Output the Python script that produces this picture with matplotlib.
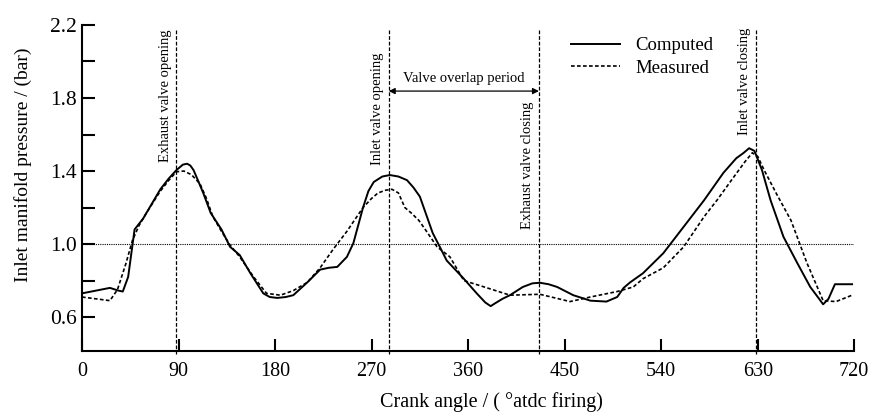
import matplotlib
matplotlib.use('Agg')
import matplotlib.pyplot as plt

plt.rcParams['font.family'] = ['Liberation Serif', 'DejaVu Serif']

# crank angle (deg atdc firing) and pressure (bar)
comp_x = [0, 26, 34, 38, 43, 46, 49, 57, 65, 73, 81, 88, 94, 98, 101, 104, 108, 113, 120,
          130, 138, 147, 157, 169, 175, 182, 190, 197, 210, 222, 230, 238, 247, 253, 262,
          267, 272, 280, 287, 295, 303, 309, 315, 321, 327, 334, 340, 348, 356, 368, 376,
          381, 385, 392, 399, 411, 420, 427, 435, 443, 458, 474, 489, 499, 505, 511, 523,
          542, 561, 580, 598, 610, 617, 622, 627, 634, 642, 654, 667, 679, 686, 691, 696,
          702, 718]
comp_y = [0.73, 0.76, 0.745, 0.74, 0.82, 0.95, 1.08, 1.14, 1.22, 1.30, 1.36, 1.405, 1.435,
          1.44, 1.43, 1.405, 1.35, 1.28, 1.17, 1.08, 0.985, 0.94, 0.84, 0.73, 0.71, 0.705,
          0.71, 0.72, 0.79, 0.86, 0.87, 0.875, 0.93, 1.005, 1.20, 1.29, 1.34, 1.37, 1.378,
          1.37, 1.35, 1.31, 1.26, 1.16, 1.06, 0.98, 0.91, 0.86, 0.81, 0.73, 0.68, 0.66,
          0.675, 0.70, 0.72, 0.765, 0.785, 0.788, 0.78, 0.765, 0.72, 0.69, 0.685, 0.71,
          0.76, 0.79, 0.84, 0.95, 1.095, 1.24, 1.39, 1.47, 1.50, 1.525, 1.51, 1.405, 1.24,
          1.04, 0.895, 0.765, 0.71, 0.67, 0.70, 0.78, 0.78]

meas_x = [0, 26, 33, 41, 47, 53, 60, 73, 81, 88, 95, 102, 110, 116, 122, 130, 138, 147, 160,
          172, 185, 197, 210, 222, 234, 247, 262, 270, 276, 283, 289, 295, 301, 307, 314,
          320, 327, 331, 343, 350, 356, 375, 399, 427, 455, 474, 499, 514, 523, 542, 561,
          580, 592, 608, 618, 625, 630, 636, 648, 661, 676, 691, 703, 718]
meas_y = [0.71, 0.69, 0.75, 0.895, 1.02, 1.10, 1.17, 1.29, 1.35, 1.396, 1.40, 1.38, 1.33,
          1.25, 1.15, 1.07, 0.995, 0.93, 0.82, 0.73, 0.72, 0.745, 0.79, 0.87, 0.97, 1.07,
          1.20, 1.25, 1.28, 1.295, 1.30, 1.28, 1.20, 1.17, 1.13, 1.08, 1.02, 0.985, 0.93,
          0.86, 0.80, 0.765, 0.72, 0.725, 0.685, 0.71, 0.74, 0.765, 0.81, 0.87, 0.985, 1.15,
          1.24, 1.37, 1.45, 1.50, 1.48, 1.405, 1.27, 1.13, 0.895, 0.69, 0.685, 0.72]

events = [88, 286, 426, 628]
event_labels = ['Exhaust valve opening', 'Inlet valve opening',
                'Exhaust valve closing', 'Inlet valve closing']
label_bottoms = [1.45, 1.435, 1.08, 1.60]

fig = plt.figure(figsize=(8.69, 4.13), dpi=100)
ax = fig.add_axes([0.0944, 0.150, 0.8886, 0.7895])

ax.plot(comp_x, comp_y, color='black', lw=1.4, label='Computed')
ax.plot(meas_x, meas_y, color='black', lw=1.2, ls=(0, (2.2, 1.4)), label='Measured')

ax.axhline(1.0, color='black', lw=0.8, ls=(0, (1, 1)))
for xv, lab, yb in zip(events, event_labels, label_bottoms):
    ax.plot([xv, xv], [2.17, 0.40], color='black', lw=0.9, ls=(0, (3, 1.5)), clip_on=False)
    ax.annotate(lab, (xv, yb), xytext=(-8, 0), textcoords='offset points',
                rotation=90, ha='center', va='bottom', fontsize=10.5)

ax.annotate('', xy=(events[1], 1.838), xytext=(events[2], 1.838),
            arrowprops=dict(arrowstyle='<|-|>', color='black', lw=0.9,
                            mutation_scale=9, shrinkA=0, shrinkB=0))
ax.text((events[1] + events[2]) / 2, 1.87, 'Valve overlap period',
        ha='center', va='bottom', fontsize=10.5)

ax.set_xlim(0, 720)
ax.set_ylim(0.414, 2.2)
ax.set_xticks(range(0, 721, 90))
ax.set_yticks([0.6, 1.0, 1.4, 1.8, 2.2])
ax.set_yticklabels(['0.6', '1.0', '1.4', '1.8', '2.2'])
ax.set_yticks([0.8, 1.2, 1.6, 2.0], minor=True)
ax.tick_params(axis='both', which='both', direction='in', length=9, width=1.5)
ax.tick_params(axis='x', labelsize=14.5, pad=8)
ax.tick_params(axis='y', labelsize=15.5, pad=3.5)
ax.spines['top'].set_visible(False)
ax.spines['right'].set_visible(False)
ax.spines['left'].set_linewidth(1.5)
ax.spines['bottom'].set_linewidth(1.5)

ax.set_xlabel('Crank angle / ( \u00b0atdc firing)', fontsize=14.5)
ax.set_ylabel('Inlet manifold pressure / (bar)', fontsize=14)
ax.xaxis.set_label_coords(0.53, -0.125)
ax.yaxis.set_label_coords(-0.065, 0.57)

ax.legend(loc='upper left', bbox_to_anchor=(0.612, 1.015), frameon=False, fontsize=13.5,
          handlelength=2.6, handletextpad=0.8, labelspacing=0.3)

fig.savefig('out.png', dpi=100)
